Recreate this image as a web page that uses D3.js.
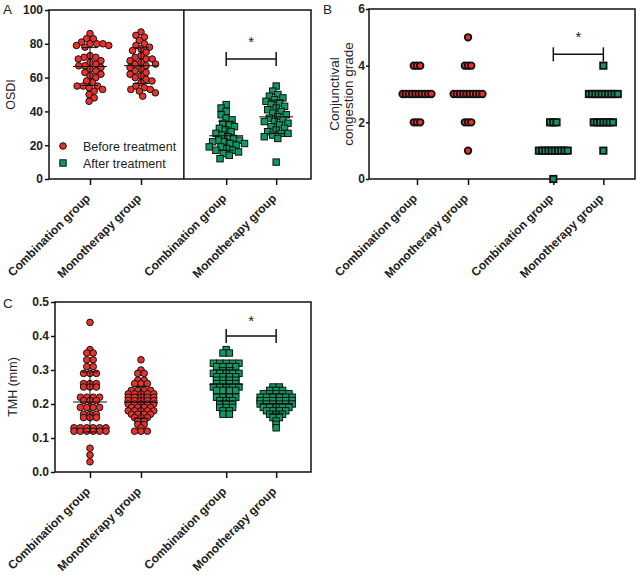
<!DOCTYPE html>
<html><head><meta charset="utf-8">
<script src="https://cdn.jsdelivr.net/npm/d3@7"></script>
<style>
body{margin:0;background:#fff;}
text{font-family:"Liberation Sans",Arial,sans-serif;fill:#222;}
</style></head>
<body><svg id="c" width="643" height="579"></svg>
<script>
// ---------- DATA ----------
const groupLabels = ["Combination group","Monotherapy group","Combination group","Monotherapy group"];
const legendLabels = ["Before treatment","After treatment"];

// Panel A: OSDI
const osdiBeforeComb = [86,83,83,81,80,80,80,79,79,78,73,72,72,71,70,69,68,67,67,66,65,64,63,62,61,60,58,57,55,55,55,54,53,52,50,48,46];
const osdiBeforeMono = [87,85,84,82,80,79,78,77,76,75,73,72,71,71,70,69,68,68,67,66,65,64,63,62,61,60,59,58,57,55,54,53,53,52,51,49];
const osdiAfterComb  = [44,42,40,38,36,35,33,32,31,30,29,28,27,26,25,24,23,23,22,22,21,21,20,19,19,18,17,17,16,15,14,12];
const osdiAfterMono  = [55,52,50,49,48,47,46,45,44,43,42,41,40,39,38,37,36,35,34,34,33,32,31,30,29,28,27,27,26,25,24,10];
const osdiTicks = [0,20,40,60,80,100];

// Panel B: conjunctival congestion grade
const congBeforeComb = [2,2,2,3,3,3,3,3,3,3,3,3,3,4,4,4];
const congBeforeMono = [1,2,2,2,3,3,3,3,3,3,3,3,3,3,4,4,4,5];
const congAfterComb  = [0,1,1,1,1,1,1,1,1,1,1,2,2,2];
const congAfterMono  = [1,2,2,2,2,2,2,2,3,3,3,3,3,3,3,3,3,3,4];
const congTicks = [0,2,4,6];

// Panel C: TMH (mm)
const tmhBeforeComb = [0.44,0.36,0.35,0.35,0.33,0.33,0.31,0.31,0.29,0.29,0.29,0.26,0.26,0.26,0.25,0.25,0.25,0.22,0.22,0.22,0.22,0.21,0.21,0.21,0.19,0.19,0.19,0.19,0.17,0.17,0.17,0.16,0.16,0.16,0.13,0.13,0.13,0.13,0.13,0.13,0.12,0.12,0.12,0.12,0.12,0.12,0.07,0.05,0.03];
const tmhBeforeMono = [0.33,0.30,0.29,0.29,0.27,0.27,0.26,0.26,0.26,0.24,0.24,0.24,0.24,0.23,0.23,0.23,0.23,0.23,0.22,0.22,0.22,0.22,0.22,0.21,0.21,0.21,0.21,0.21,0.20,0.20,0.20,0.20,0.20,0.19,0.19,0.19,0.19,0.18,0.18,0.18,0.18,0.18,0.17,0.17,0.17,0.17,0.16,0.16,0.16,0.15,0.15,0.14,0.14,0.13,0.12,0.12,0.12];
const tmhAfterComb  = [0.36,0.35,0.35,0.32,0.32,0.32,0.32,0.32,0.31,0.31,0.31,0.31,0.29,0.29,0.29,0.29,0.29,0.28,0.28,0.28,0.28,0.27,0.27,0.27,0.27,0.26,0.26,0.26,0.26,0.25,0.25,0.25,0.25,0.25,0.24,0.24,0.24,0.24,0.22,0.22,0.22,0.22,0.21,0.21,0.21,0.20,0.20,0.20,0.19,0.19,0.19,0.18,0.18,0.17,0.17];
const tmhAfterMono  = [0.25,0.25,0.24,0.24,0.24,0.23,0.23,0.23,0.23,0.23,0.22,0.22,0.22,0.22,0.22,0.22,0.21,0.21,0.21,0.21,0.21,0.21,0.20,0.20,0.20,0.20,0.20,0.20,0.19,0.19,0.19,0.19,0.19,0.18,0.18,0.18,0.18,0.17,0.17,0.17,0.16,0.16,0.15,0.14,0.13];
const tmhTicks = [0.0,0.1,0.2,0.3,0.4,0.5];

// significance bracket heights
const sigA = 71, sigB = 4.4, sigC = 0.4;

// ---------- LAYOUT ----------
const RED = "#e8312d", GREEN = "#0e9a62";
const groupPos = [0, 1, 2.67, 3.65]; // ordinal slots
const svg = d3.select("#c");

function rowSwarm(vals, y, d, bin){
  const pts = vals.map(v=>({v, y:y(v), x:0}));
  const rows = d3.group(pts, p=>Math.round(p.y/bin));
  for(const arr of rows.values()){
    arr.sort((a,b)=>a.v-b.v);
    const n = arr.length;
    arr.forEach((p,k)=>{ p.x = (k-(n-1)/2)*d; });
  }
  return pts.sort((a,b)=>a.y-b.y);
}
function beeSwarm(vals, y, d){
  const pts = vals.map(v=>({v, y:y(v), x:0})).sort((a,b)=>a.y-b.y);
  const placed = [];
  for(const p of pts){
    const near = placed.filter(q=>Math.abs(q.y-p.y) < d);
    const cands = [0];
    for(const q of near){ const dx = Math.sqrt(d*d-(q.y-p.y)**2); cands.push(q.x+dx, q.x-dx); }
    cands.sort((a,b)=>Math.abs(a)-Math.abs(b) || a-b);
    for(const c of cands){
      if(near.every(q=>(q.x-c)**2+(q.y-p.y)**2 >= d*d-1e-6)){ p.x=c; break; }
    }
    placed.push(p);
  }
  return placed;
}

function panel(cfg){
  const g = svg.append("g");
  const x = d3.scaleLinear().domain(cfg.xDomain).range([cfg.left, cfg.right]);
  const y = d3.scaleLinear().domain(cfg.yDomain).range([cfg.bottom, cfg.top]);

  const ya = g.append("g").attr("transform",`translate(${cfg.left},0)`)
    .call(d3.axisLeft(y).tickValues(cfg.ticks).tickFormat(cfg.fmt).tickSize(cfg.tickLen).tickPadding(cfg.pad));
  ya.select(".domain").remove();
  ya.selectAll("line").attr("stroke","#111").attr("stroke-width",1.5);
  ya.selectAll("text").style("font-size","12px").style("font-weight","bold").attr("fill","#222");

  const xa = g.append("g").attr("transform",`translate(0,${cfg.bottom})`)
    .call(d3.axisBottom(x).tickValues(groupPos).tickFormat("").tickSize(6));
  xa.select(".domain").remove();
  xa.selectAll("line").attr("stroke","#111").attr("stroke-width",1.5);
  g.selectAll(".xl").data(groupLabels).join("text")
    .attr("transform",(d,i)=>`translate(${x(groupPos[i])+1},${cfg.bottom+20}) rotate(-45)`)
    .attr("text-anchor","end")
    .style("font-size","12px").style("font-weight","bold").text(d=>d);

  g.append("rect").attr("x",cfg.left).attr("y",cfg.top)
    .attr("width",cfg.right-cfg.left).attr("height",cfg.bottom-cfg.top)
    .attr("fill","none").attr("stroke","#111").attr("stroke-width",1.5);
  if(cfg.divider!=null){
    g.append("line").attr("x1",x(cfg.divider)).attr("x2",x(cfg.divider))
      .attr("y1",cfg.top).attr("y2",cfg.bottom).attr("stroke","#111").attr("stroke-width",1.5);
  }

  cfg.series.forEach((vals,i)=>{
    const pts = cfg.bee ? beeSwarm(vals, y, cfg.d) : rowSwarm(vals, y, cfg.d, 3.0);
    const cx = x(groupPos[i]);
    const s = g.append("g");
    if(i<2){
      s.selectAll("circle").data(pts).join("circle")
        .attr("cx",p=>cx+p.x).attr("cy",p=>p.y).attr("r",3.3)
        .attr("fill",RED).attr("stroke","#111").attr("stroke-width",cfg.sw);
    } else {
      s.selectAll("rect").data(pts).join("rect")
        .attr("x",p=>cx+p.x-3.2).attr("y",p=>p.y-3.2).attr("width",6.4).attr("height",6.4)
        .attr("fill",GREEN).attr("stroke","#111").attr("stroke-width",cfg.sw);
    }
    if(cfg.sd){
      const m = d3.mean(vals), sd = d3.deviation(vals);
      const lg = g.append("g").attr("stroke","#111").attr("stroke-width",1);
      lg.append("line").attr("x1",cx-17).attr("x2",cx+17).attr("y1",y(m)).attr("y2",y(m));
      lg.append("line").attr("x1",cx).attr("x2",cx).attr("y1",y(m-sd)).attr("y2",y(m+sd));
      [m-sd,m+sd].forEach(v=>lg.append("line").attr("x1",cx-8).attr("x2",cx+8).attr("y1",y(v)).attr("y2",y(v)));
    }
  });

  const by = y(cfg.sig), bx1 = x(groupPos[2]), bx2 = x(groupPos[3]);
  const bg = g.append("g").attr("stroke","#111").attr("stroke-width",1.5);
  bg.append("line").attr("x1",bx1).attr("x2",bx2).attr("y1",by).attr("y2",by);
  bg.append("line").attr("x1",bx1).attr("x2",bx1).attr("y1",by-7).attr("y2",by+7);
  bg.append("line").attr("x1",bx2).attr("x2",bx2).attr("y1",by-7).attr("y2",by+7);
  g.append("text").attr("x",(bx1+bx2)/2).attr("y",by-cfg.starOff).attr("text-anchor","middle")
    .style("font-size","15px").text("*");

  cfg.titles.forEach(t=>{
    g.append("text").attr("transform",`translate(${t.x},${(cfg.top+cfg.bottom)/2}) rotate(-90)`)
      .attr("text-anchor","middle").style("font-size",t.size).text(t.text);
  });
  g.append("text").attr("x",cfg.letter.x).attr("y",cfg.letter.y).style("font-size","13.5px").text(cfg.letter.t);
  return {g,x,y};
}

const A = panel({left:49,right:311,top:10,bottom:179,xDomain:[-0.804,4.333],yDomain:[0,100],
  ticks:osdiTicks,fmt:d=>d,tickLen:4,pad:2,series:[osdiBeforeComb,osdiBeforeMono,osdiAfterComb,osdiAfterMono],
  d:6.1,bee:true,sw:1,divider:1.84,sig:sigA,starOff:12,sd:true,
  titles:[{x:15,text:"OSDI",size:"12.5px"}],letter:{x:3,y:14,t:"A"}});

panel({left:369,right:635,top:9,bottom:179,xDomain:[-0.94,4.27],yDomain:[0,6],
  ticks:congTicks,fmt:d=>d,tickLen:3,pad:1,series:[congBeforeComb,congBeforeMono,congAfterComb,congAfterMono],
  d:3.2,bee:false,sw:1.8,divider:null,sig:sigB,starOff:12,sd:false,
  titles:[{x:339,text:"Conjunctival",size:"13.5px"},{x:353,text:"congestion grade",size:"13.5px"}],
  letter:{x:323,y:14,t:"B"}});

panel({left:55,right:311,top:302,bottom:472,xDomain:[-0.686,4.333],yDomain:[0,0.5],
  ticks:tmhTicks,fmt:d3.format(".1f"),tickLen:4,pad:2,series:[tmhBeforeComb,tmhBeforeMono,tmhAfterComb,tmhAfterMono],
  d:6.4,bee:false,sw:1,divider:null,sig:sigC,starOff:10,sd:true,
  titles:[{x:17,text:"TMH (mm)",size:"12.5px"}],letter:{x:3,y:308,t:"C"}});

const lg = A.g.append("g");
lg.append("circle").attr("cx",63).attr("cy",146).attr("r",3.3).attr("fill",RED).attr("stroke","#111");
lg.append("rect").attr("x",63-3.2).attr("y",163-3.2).attr("width",6.4).attr("height",6.4).attr("fill",GREEN).attr("stroke","#111");
lg.selectAll(".lt").data(legendLabels).join("text").attr("x",83).attr("y",(d,i)=>150.5+i*17)
  .style("font-size","12.5px").text(d=>d);
</script></body></html>
